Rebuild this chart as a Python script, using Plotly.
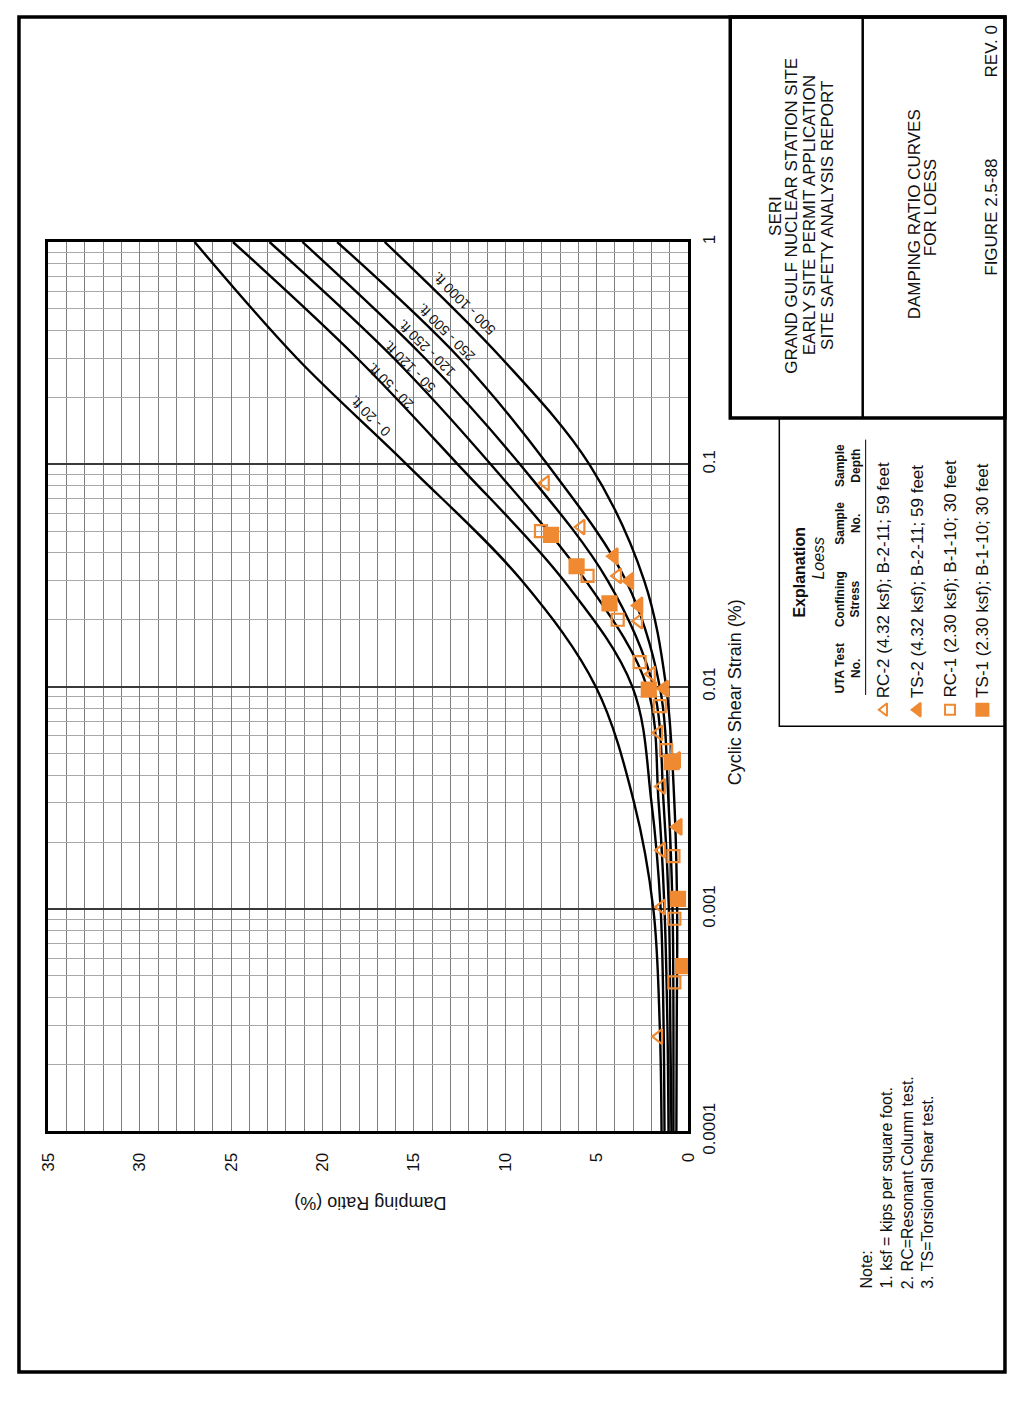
import plotly.graph_objects as go

PAGE_W, PAGE_H = 1021, 1405
BODY = 8                      # default body margin of the html page
W, H = PAGE_W - 2 * BODY, PAGE_H - 2 * BODY

# ---------------- data ----------------
strain = [0.0001, 0.0003, 0.001, 0.003, 0.01, 0.03, 0.1, 0.3, 1.0]
curve_names = ["0 - 20 ft.", "20 - 50 ft.", "50 - 120 ft.", "120 - 250 ft.", "250 - 500 ft.", "500 - 1000 ft."]
d_0_20 = [1.45, 1.55, 1.90, 2.95, 5.05, 9.1, 15.4, 21.4, 27.0]
d_20_50 = [1.29, 1.34, 1.50, 2.00, 3.05, 6.8, 12.6, 18.1, 24.9]
d_50_120 = [1.07, 1.13, 1.29, 1.61, 2.25, 5.6, 10.8, 16.1, 22.9]
d_120_250 = [0.91, 0.97, 1.05, 1.34, 1.90, 4.4, 9.2, 14.4, 21.1]
d_250_500 = [0.80, 0.80, 0.85, 1.07, 1.55, 3.4, 7.7, 12.5, 19.2]
d_500_1000 = [0.64, 0.62, 0.60, 0.75, 1.20, 2.4, 5.4, 10.2, 16.6]
curves = [d_0_20, d_20_50, d_50_120, d_120_250, d_250_500, d_500_1000]

rc2_strain = [0.0824, 0.0522, 0.0315, 0.0197, 0.0114, 0.0062, 0.00356, 0.00184, 0.00102, 0.000267]
rc2_damp = [7.8, 5.85, 3.85, 2.7, 2.0, 1.6, 1.45, 1.45, 1.45, 1.6]
ts2_strain = [0.0386, 0.0299, 0.0232, 0.0098, 0.00468, 0.00234]
ts2_damp = [4.05, 3.2, 2.7, 1.3, 0.64, 0.55]
rc1_strain = [0.0501, 0.0315, 0.0200, 0.0129, 0.00817, 0.00518, 0.00173, 0.000904, 0.000468]
rc1_damp = [8.05, 5.5, 3.85, 2.65, 1.55, 1.2, 0.8, 0.75, 0.75]
ts1_strain = [0.0482, 0.0348, 0.0237, 0.0097, 0.00458, 0.00111, 0.000554]
ts1_damp = [7.5, 6.1, 4.3, 2.15, 0.9, 0.55, 0.28]

damping_ticks = [0, 5, 10, 15, 20, 25, 30, 35]
strain_ticks = [0.0001, 0.001, 0.01, 0.1, 1]
strain_ticktext = ["0.0001", "0.001", "0.01", "0.1", "1"]

legend_rows = [
    "RC-2 (4.32 ksf); B-2-11; 59 feet",
    "TS-2 (4.32 ksf); B-2-11; 59 feet",
    "RC-1 (2.30 ksf); B-1-10; 30 feet",
    "TS-1 (2.30 ksf); B-1-10; 30 feet",
]
title_lines = ["SERI", "GRAND GULF NUCLEAR STATION SITE", "EARLY SITE PERMIT APPLICATION",
               "SITE SAFETY ANALYSIS REPORT"]
note_lines = ["Note:", "1. ksf = kips per square foot.", "2. RC=Resonant Column test.",
              "3. TS=Torsional Shear test."]

# ---------------- style ----------------
FONT = "Liberation Sans, Arial, sans-serif"
ORANGE = "#EF8A32"
PL, PR, PT, PB = 40, 692, 240, 1149     # plot area in page pixels


def fx(px):
    return (px - BODY) / W


def fy(py):
    return 1 - (py - BODY) / H


fig = go.Figure()

for name, d in zip(curve_names, curves):
    fig.add_trace(go.Scatter(x=d, y=strain, mode="lines", name=name,
                             line=dict(color="black", width=2.4, shape="spline", smoothing=1.0),
                             showlegend=False, xaxis="x", yaxis="y"))

series = [
    ("RC-2", rc2_damp, rc2_strain, "triangle-left-open", 13),
    ("TS-2", ts2_damp, ts2_strain, "triangle-left", 14),
    ("RC-1", rc1_damp, rc1_strain, "square-open", 12),
    ("TS-1", ts1_damp, ts1_strain, "square", 14),
]
for name, d, s, sym, sz in series:
    fig.add_trace(go.Scatter(x=d, y=s, mode="markers", name=name, showlegend=False,
                             marker=dict(symbol=sym, size=sz, color=ORANGE,
                                         line=dict(color=ORANGE, width=2.2)),
                             xaxis="x", yaxis="y"))

# legend markers drawn in a page-pixel overlay
leg_x = [892, 926, 959, 992]
for (name, d, s, sym, sz), lx in zip(series, leg_x):
    fig.add_trace(go.Scatter(x=[lx], y=[718], mode="markers", showlegend=False,
                             marker=dict(symbol=sym, size=sz - 2, color=ORANGE,
                                         line=dict(color=ORANGE, width=2)),
                             xaxis="x2", yaxis="y2", hoverinfo="skip"))

ann = []


def A(text, px, py, size=17, angle=-90, xa="center", ya="middle", **kw):
    ann.append(dict(text=text, x=fx(px), y=fy(py), xref="paper", yref="paper",
                    showarrow=False, textangle=angle, xanchor=xa, yanchor=ya,
                    font=dict(family=FONT, size=size, color="#111"), **kw))


# axis titles
A("Cyclic Shear Strain (%)", 740, 700, size=18)
A("Damping Ratio (%)", 368, 1222, size=18, angle=180)

# curve labels
label_pos = [(368, 418), (388, 387), (408, 367), (425, 349), (445, 332), (463, 303)]
for name, (lx, ly) in zip(curve_names, label_pos):
    A(name, lx, ly, size=14, angle=-135)

# title block
for t, lx in zip(title_lines, [781, 798, 816, 834]):
    A(t, lx, 213, size=17)
A("DAMPING RATIO CURVES", 923, 212, size=17)
A("FOR LOESS", 939, 205, size=17)
A("FIGURE 2.5-88", 1001, 215, size=17)
A("REV. 0", 1001, 45, size=17)

# legend
A("<b>Explanation</b>", 806, 577, size=16)
A("<i>Loess</i>", 824, 563, size=16)
A("<b>UTA Test<br>No.</b>", 855, 676, size=12)
A("<b>Confining<br>Stress</b>", 855, 605, size=12)
A("<b>Sample<br>No.</b>", 855, 527, size=12)
A("<b>Sample<br>Depth</b>", 855, 468, size=12)
for t, lx in zip(legend_rows, leg_x):
    A(t, lx, 708, size=17, ya="bottom")

# notes
for t, lx in zip(note_lines, [874, 894, 915, 936]):
    A(t, lx, 1312, size=16, ya="bottom")

shapes = []


def S(x0, y0, x1, y1, w=2, kind="rect"):
    shapes.append(dict(type=kind, xref="paper", yref="paper", x0=fx(x0), y0=fy(y0),
                       x1=fx(x1), y1=fy(y1), line=dict(color="black", width=w)))


S(10, 10, 1015, 1395, w=3.5)
S(735, 10, 1015, 420, w=3.5)
S(870, 10, 870, 420, w=2.5, kind="line")
S(785, 420, 1015, 735, w=1.5)
S(873, 442, 873, 703, w=1, kind="line")

fig.update_layout(
    width=W, height=H,
    margin=dict(l=0, r=0, t=0, b=0),
    paper_bgcolor="white", plot_bgcolor="rgba(0,0,0,0)",
    font=dict(family=FONT, color="#111"),
    annotations=ann, shapes=shapes, showlegend=False,
    xaxis=dict(domain=[fx(PL), fx(PR)], range=[35, 0], anchor="y",
               tickmode="array", tickvals=damping_ticks, tickangle=-90,
               tickfont=dict(size=17, family=FONT), ticks="", ticklabelstandoff=12,
               showgrid=True, gridcolor="#7d7d7d", gridwidth=1,
               minor=dict(dtick=1, tick0=0, showgrid=True, gridcolor="#7d7d7d", gridwidth=1),
               showline=True, linecolor="black", linewidth=2.5, mirror=True, zeroline=False),
    yaxis=dict(domain=[fy(PB), fy(PT)], type="log", range=[-4, 0], anchor="x", side="right",
               tickmode="array", tickvals=strain_ticks, ticktext=strain_ticktext, tickangle=-90,
               tickfont=dict(size=17, family=FONT), ticks="", ticklabelstandoff=4,
               showgrid=True, gridcolor="#3a3a3a", gridwidth=1.6,
               minor=dict(dtick="D1", showgrid=True, gridcolor="#a8a8a8", gridwidth=1),
               showline=True, linecolor="black", linewidth=2.5, mirror=True, zeroline=False),
    xaxis2=dict(domain=[0, 1], range=[BODY, PAGE_W - BODY], visible=False, anchor="y2", fixedrange=True),
    yaxis2=dict(domain=[0, 1], range=[PAGE_H - BODY, BODY], visible=False, anchor="x2", fixedrange=True),
)

fig.write_html("out.html")
